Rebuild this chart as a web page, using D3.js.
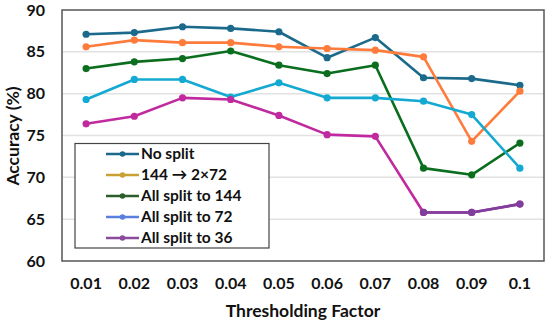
<!DOCTYPE html>
<html>
<head>
<meta charset="utf-8">
<script src="https://cdn.jsdelivr.net/npm/d3@7"></script>
<style>
  body { margin: 0; background: white; }
  svg { display: block; font-family: Lato, "Open Sans", sans-serif; font-weight: bold; }
</style>
</head>
<body>
<svg id="chart" width="550" height="324"></svg>
<script>
// categories and series values
const factors = ["0.01","0.02","0.03","0.04","0.05","0.06","0.07","0.08","0.09","0.1"];
const noSplit   = [87.1, 87.3, 88.0, 87.8, 87.4, 84.3, 86.7, 81.9, 81.8, 81.0];
const split2x72 = [85.6, 86.4, 86.1, 86.1, 85.6, 85.4, 85.2, 84.4, 74.3, 80.3];
const split144  = [83.0, 83.8, 84.2, 85.1, 83.4, 82.4, 83.4, 71.1, 70.3, 74.1];
const split72   = [79.3, 81.7, 81.7, 79.6, 81.3, 79.5, 79.5, 79.1, 77.5, 71.1];
const split36   = [76.4, 77.3, 79.5, 79.3, 77.4, 75.1, 74.9, 65.8, 65.8, 66.8];
const yTicks = [60, 65, 70, 75, 80, 85, 90];

const series = [
  { name: "No split",         values: noSplit,   color: "#1b6a8b", legend: "#1b6a8b" },
  { name: "144 \u2192 2\u00d772", values: split2x72, color: "#ff7b3c", legend: "#c9a032" },
  { name: "All split to 144", values: split144,  color: "#0b6e1f", legend: "#2c5e2c" },
  { name: "All split to 72",  values: split72,   color: "#14a9d2", legend: "#5b7fe0" },
  { name: "All split to 36",  values: split36,   color: "#c02a9e", legend: "#8a4b9c" }
];

const svg = d3.select("#chart");
const margin = { left: 62, right: 6, top: 10, bottom: 63 };
const W = 550, H = 324;

const x = d3.scaleBand()
  .domain(factors)
  .range([margin.left, W - margin.right]);
const y = d3.scaleLinear()
  .domain([60, 90])
  .range([H - margin.bottom, margin.top]);

// gridlines
svg.append("g")
  .selectAll("line")
  .data(yTicks.filter(t => t > 60 && t < 90))
  .join("line")
    .attr("x1", margin.left)
    .attr("x2", W - margin.right)
    .attr("y1", d => y(d))
    .attr("y2", d => y(d))
    .attr("stroke", "#e2e2e2")
    .attr("stroke-width", 1.5);

// y axis labels
const yAxis = svg.append("g")
  .attr("transform", `translate(${margin.left},0)`)
  .call(d3.axisLeft(y).tickValues(yTicks).tickSize(0).tickPadding(17));
yAxis.select(".domain").remove();
yAxis.selectAll("text")
  .attr("font-family", "Lato, sans-serif")
  .attr("font-weight", "bold")
  .attr("font-size", 16)
  .attr("fill", "#111");

// x axis labels
const xAxis = svg.append("g")
  .attr("transform", `translate(0,${H - margin.bottom})`)
  .call(d3.axisBottom(x).tickSize(0).tickPadding(17));
xAxis.select(".domain").remove();
xAxis.selectAll("text")
  .attr("font-family", "Lato, sans-serif")
  .attr("font-weight", "bold")
  .attr("font-size", 16)
  .attr("fill", "#111");

// plot frame
svg.append("rect")
  .attr("x", margin.left)
  .attr("y", margin.top)
  .attr("width", W - margin.left - margin.right)
  .attr("height", H - margin.top - margin.bottom)
  .attr("fill", "none")
  .attr("stroke", "#555")
  .attr("stroke-width", 1.5);

// axis titles
svg.append("text")
  .attr("x", margin.left + (W - margin.left - margin.right) / 2)
  .attr("y", 317)
  .attr("text-anchor", "middle")
  .attr("font-size", 17.5)
  .attr("fill", "#111")
  .text("Thresholding Factor");

svg.append("text")
  .attr("transform", "translate(19,136) rotate(-90)")
  .attr("text-anchor", "middle")
  .attr("font-size", 17.5)
  .attr("fill", "#111")
  .text("Accuracy (%)");

// lines and markers
const cx = (d, i) => x(factors[i]) + x.bandwidth() / 2;
const line = d3.line()
  .x(cx)
  .y(d => y(d));

const plot = svg.append("g");
series.forEach(s => {
  plot.append("path")
    .datum(s.values)
    .attr("fill", "none")
    .attr("stroke", s.color)
    .attr("stroke-width", 2.6)
    .attr("stroke-linejoin", "round")
    .attr("d", line);
  plot.append("g")
    .selectAll("circle")
    .data(s.values)
    .join("circle")
      .attr("cx", cx)
      .attr("cy", d => y(d))
      .attr("r", 3.6)
      .attr("fill", s.color);
});

// the last stretch of the 36 series turns purple in the picture
const tail = split36.map((v, i) => i >= 7 ? v : null);
const tailLine = d3.line()
  .defined(d => d !== null)
  .x(cx)
  .y(d => y(d));
plot.append("path")
  .datum(tail)
  .attr("fill", "none")
  .attr("stroke", "#7e3f9c")
  .attr("stroke-width", 2.6)
  .attr("d", tailLine);
plot.append("g")
  .selectAll("circle")
  .data(tail.map((v, i) => ({ v, i })).filter(d => d.v !== null))
  .join("circle")
    .attr("cx", d => cx(d.v, d.i))
    .attr("cy", d => y(d.v))
    .attr("r", 3.6)
    .attr("fill", "#7e3f9c");

// legend
const lg = svg.append("g");
lg.append("rect")
  .attr("x", 75)
  .attr("y", 143.5)
  .attr("width", 194)
  .attr("height", 104.5)
  .attr("fill", "white")
  .attr("stroke", "#444")
  .attr("stroke-width", 1.2);

const rows = lg.selectAll("g.row")
  .data(series)
  .join("g")
    .attr("class", "row")
    .attr("transform", (d, i) => `translate(0,${154 + i * 21})`);
rows.append("line")
  .attr("x1", 106)
  .attr("x2", 139)
  .attr("stroke", d => d.legend)
  .attr("stroke-width", 2.6);
rows.append("circle")
  .attr("cx", 122.5)
  .attr("r", 2.8)
  .attr("fill", d => d.legend);
rows.append("text")
  .attr("x", 141)
  .attr("dy", "0.35em")
  .attr("font-size", 15.5)
  .attr("fill", "#111")
  .text(d => d.name);
</script>
</body>
</html>
